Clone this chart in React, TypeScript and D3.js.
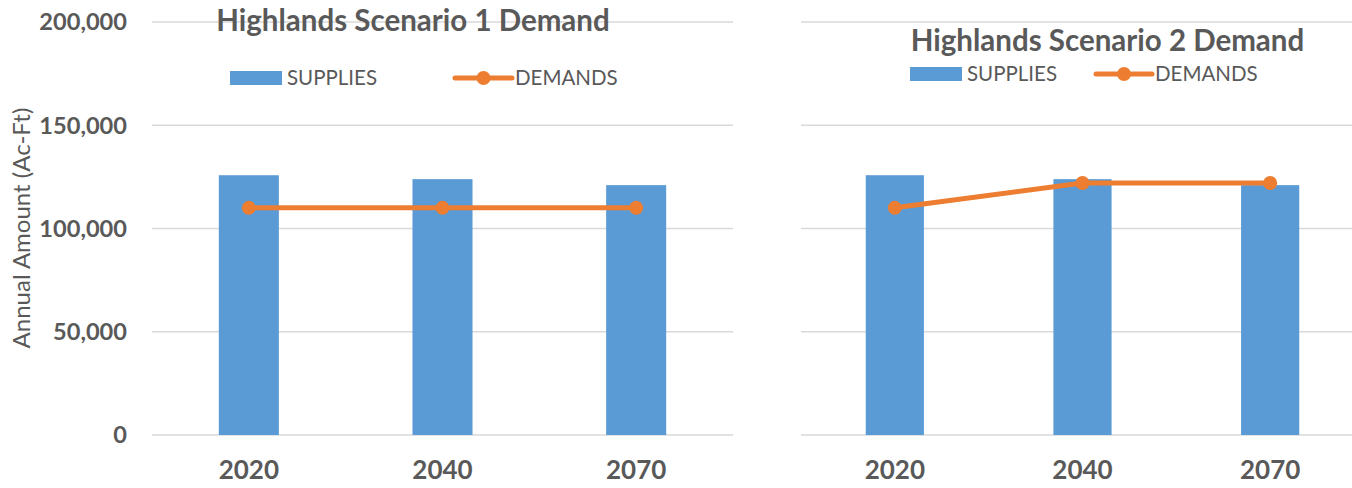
import React from "react";
import * as d3 from "d3";

const years = ["2020", "2040", "2070"];
const supplies = [125800, 123900, 121000];
const demands1 = [110000, 110000, 110000];
const demands2 = [110000, 122000, 122000];
const yTicks = [0, 50000, 100000, 150000, 200000];

const W = 1352, H = 488;
const FONT = "Lato, 'Open Sans', sans-serif";
const GREY = "#595959";
const BLUE = "#5B9BD5";
const ORANGE = "#ED7D31";

const y = d3.scaleLinear().domain([0, 200000]).range([435, 22]);
const fmt = d3.format(",");

function Panel({ x0, x1, demands, title, titleX, titleY, leg, showAxis }: any) {
  const x = d3.scaleBand().domain(years).range([x0, x1]).paddingInner(0.69).paddingOuter(0.345);
  const cx = (i: number) => (x(years[i]) as number) + x.bandwidth() / 2;
  const line = d3.line<number>().x((_, i) => cx(i)).y((d) => y(d));
  return (
    <g>
      {yTicks.map((t) => (
        <line key={t} x1={x0} x2={x1} y1={y(t)} y2={y(t)} stroke="#D9D9D9" strokeWidth={1.5} />
      ))}
      {showAxis &&
        yTicks.map((t) => (
          <text key={t} x={127} y={y(t)} dy="0.35em" textAnchor="end" fontSize={23.6} fontWeight="bold" fill={GREY} fontFamily={FONT}>
            {fmt(t)}
          </text>
        ))}
      {supplies.map((v, i) => (
        <rect key={i} x={x(years[i])} y={y(v)} width={x.bandwidth()} height={y(0) - y(v)} fill={BLUE} />
      ))}
      <path d={line(demands) as string} fill="none" stroke={ORANGE} strokeWidth={5} strokeLinejoin="round" />
      {demands.map((v, i) => (
        <circle key={i} cx={cx(i)} cy={y(v)} r={7} fill={ORANGE} />
      ))}
      {years.map((yr, i) => (
        <text key={yr} x={cx(i)} y={470} dy="0.35em" textAnchor="middle" fontSize={26} fontWeight="bold" fill={GREY} fontFamily={FONT}>
          {yr}
        </text>
      ))}
      <text x={titleX} y={titleY} textAnchor="middle" fontSize={29.5} fontWeight="bold" fill={GREY} fontFamily={FONT}>
        {title}
      </text>
      <g>
        <rect x={leg.sw} y={leg.y - 7} width={52} height={14} fill={BLUE} />
        <text x={leg.sw + 57} y={leg.y} dy="0.35em" fontSize={20.5} fill={GREY} fontFamily={FONT}>SUPPLIES</text>
        <line x1={leg.l0} x2={leg.l1} y1={leg.y} y2={leg.y} stroke={ORANGE} strokeWidth={5} strokeLinecap="round" />
        <circle cx={(leg.l0 + leg.l1) / 2} cy={leg.y} r={7} fill={ORANGE} />
        <text x={leg.l1 + 3} y={leg.y} dy="0.35em" fontSize={20.5} fill={GREY} fontFamily={FONT}>DEMANDS</text>
      </g>
    </g>
  );
}

export default function App() {
  return (
    <svg width={W} height={H} style={{ position: "absolute", left: 0, top: 0, background: "#fff" }}>
      <rect width={W} height={H} fill="#fff" />
      <text transform={`translate(30,228) rotate(-90)`} textAnchor="middle" fontSize={24} fill={GREY} fontFamily={FONT}>
        Annual Amount (Ac-Ft)
      </text>
      <Panel x0={152} x1={733} demands={demands1} title="Highlands Scenario 1 Demand" titleX={413} titleY={31}
        leg={{ sw: 230, y: 78, l0: 455, l1: 512 }} showAxis />
      <Panel x0={801} x1={1364} demands={demands2} title="Highlands Scenario 2 Demand" titleX={1107.5} titleY={51}
        leg={{ sw: 910, y: 74, l0: 1096, l1: 1152 }} showAxis={false} />
    </svg>
  );
}
